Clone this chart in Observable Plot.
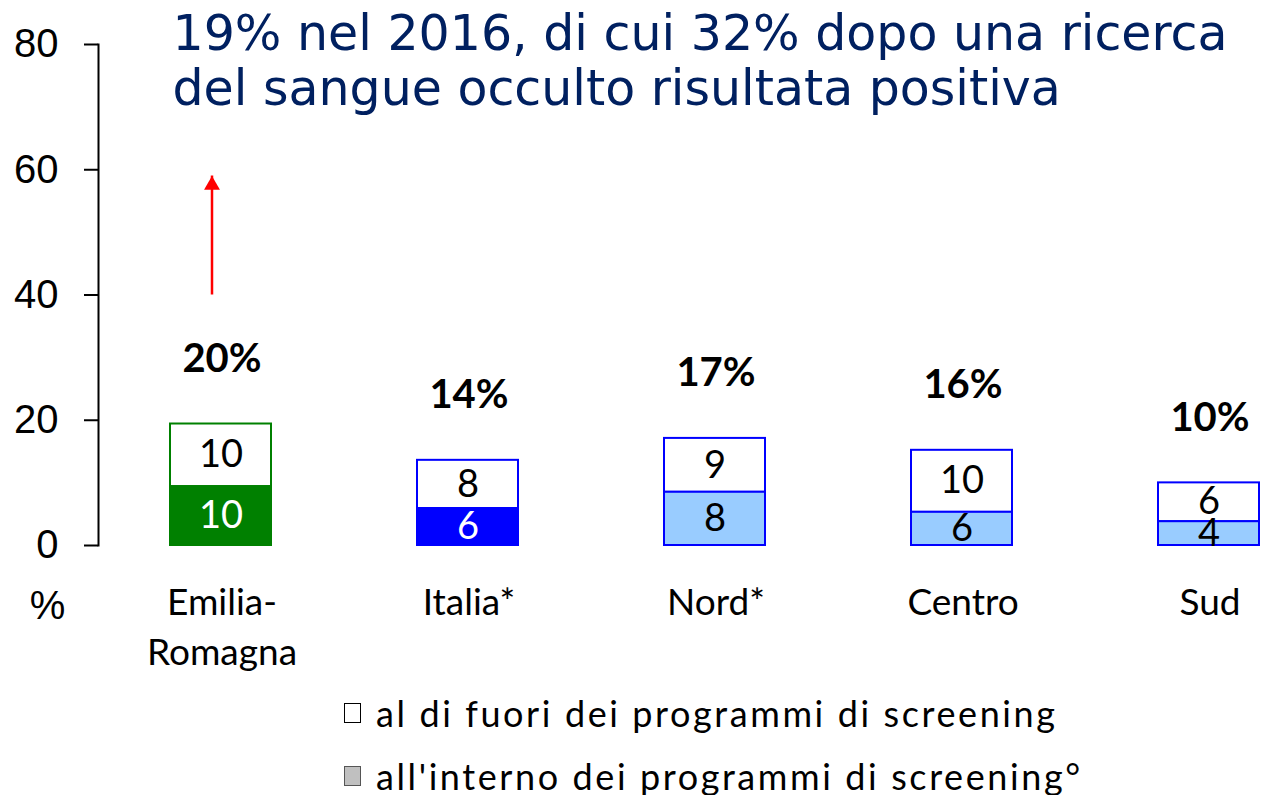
<!DOCTYPE html>
<html>
<head>
<meta charset="utf-8">
<script src="https://cdn.jsdelivr.net/npm/d3@7"></script>
<script src="https://cdn.jsdelivr.net/npm/@observablehq/plot@0.6"></script>
<style>
  html, body { margin: 0; padding: 0; background: #fff; }
  #wrap { position: relative; width: 1267px; height: 795px; overflow: hidden; }
  .lg-row { position: absolute; left: 344px; height: 40px; line-height: 40px; display: flex; align-items: center; font-family: Lato, "DejaVu Sans", sans-serif; font-size: 36px; letter-spacing: 2.6px; color: #000; white-space: nowrap; }
  .lg-sw { width: 15px; height: 18px; border: 1.5px solid #000; margin-right: 15px; box-sizing: content-box; }
  g[aria-label="category-labels"] text { letter-spacing: 1.2px; }
  g[aria-label="total-labels"] text { letter-spacing: 2.5px; }
</style>
</head>
<body>
<div id="wrap"></div>
<script>
// ---- data ----
const categories = ["Emilia-Romagna", "Italia*", "Nord*", "Centro", "Sud"];
const categoryLabels = ["Emilia-\nRomagna", "Italia*", "Nord*", "Centro", "Sud"];
const insideValues = [9.4, 5.9, 8.5, 5.3, 3.8];     // all'interno dei programmi di screening
const outsideValues = [10.0, 7.7, 8.6, 9.9, 6.2];   // al di fuori dei programmi di screening
const insideLabels = ["10", "6", "8", "6", "4"];
const outsideLabels = ["10", "8", "9", "10", "6"];
const totalLabels = ["20%", "14%", "17%", "16%", "10%"];
const yTicks = [0, 20, 40, 60, 80];
const arrowFrom = 40;
const arrowTo = 59;
const titleText = "19% nel 2016, di cui 32% dopo una ricerca\ndel sangue occulto risultata positiva";
const legendLabels = ["al di fuori dei programmi di screening", "all'interno dei programmi di screening°"];
const yUnit = "%";

// ---- styles ----
const strokeColor = {"Emilia-Romagna": "#008000", "Italia*": "#0000ff", "Nord*": "#0000ff", "Centro": "#0000ff", "Sud": "#0000ff"};
const insideFill = {"Emilia-Romagna": "#008000", "Italia*": "#0000ff", "Nord*": "#99ccff", "Centro": "#99ccff", "Sud": "#99ccff"};
const insideTextColor = {"Emilia-Romagna": "#fff", "Italia*": "#fff", "Nord*": "#000", "Centro": "#000", "Sud": "#000"};
const labelFont = "Lato, 'DejaVu Sans', sans-serif";
const arialFont = "'Liberation Sans', Arial, sans-serif";

const rows = categories.map((c, i) => ({
  cat: c,
  label: categoryLabels[i],
  inside: insideValues[i],
  outside: outsideValues[i],
  total: insideValues[i] + outsideValues[i],
  inLab: insideLabels[i],
  outLab: outsideLabels[i],
  totLab: totalLabels[i]
}));

const chart = Plot.plot({
  width: 1267,
  height: 690,
  marginLeft: 98,
  marginRight: 0,
  marginTop: 44,
  marginBottom: 145,
  x: {domain: categories, range: [97, 1332], paddingInner: 0.591, paddingOuter: 0.2955, axis: null},
  y: {domain: [0, 80], axis: null},
  style: {background: "transparent"},
  marks: [
    Plot.axisY(yTicks, {tickSize: 14, tickPadding: 26, fontSize: 40, fontFamily: arialFont, color: "#000", strokeWidth: 2, label: null}),
    Plot.frame({anchor: "left", stroke: "#000", strokeWidth: 2}),
    // outside segment (white)
    Plot.barY(rows, {x: "cat", y1: "inside", y2: "total", fill: "#fff", stroke: d => strokeColor[d.cat], strokeWidth: 2}),
    // inside segment
    Plot.barY(rows, {x: "cat", y1: 0, y2: "inside", fill: d => insideFill[d.cat], stroke: d => strokeColor[d.cat], strokeWidth: 2}),
    Plot.text(rows, {x: "cat", y: d => d.inside + d.outside / 2, text: "outLab", fontSize: 38, fontFamily: labelFont, fill: "#000"}),
    Plot.text(rows, {x: "cat", y: d => d.inside / 2, text: "inLab", fontSize: 38, fontFamily: labelFont, fill: d => insideTextColor[d.cat]}),
    Plot.text(rows, {x: "cat", y: "total", text: "totLab", dy: -65, dx: 1, fontSize: 40, fontWeight: "bold", fontFamily: labelFont, fill: "#000", ariaLabel: "total-labels"}),
    // category labels
    Plot.text(rows, {x: "cat", frameAnchor: "bottom", text: "label", dy: 34, dx: 1, lineAnchor: "top", textAnchor: "middle", lineHeight: 1.35, fontSize: 37, fontFamily: labelFont, fill: "#000", ariaLabel: "category-labels"}),
    // unit label
    Plot.text([yUnit], {frameAnchor: "bottom-left", text: d => d, dx: -51, dy: 61, textAnchor: "middle", lineAnchor: "middle", fontSize: 40, fontFamily: arialFont, fill: "#000"}),
    // red arrow
    Plot.ruleX([{cat: categories[0], a: arrowFrom, b: arrowTo}], {x: "cat", y1: "a", y2: "b", stroke: "#ff0000", strokeWidth: 2.5, dx: -9}),
    Plot.dot([{cat: categories[0], b: arrowTo}], {x: "cat", y: "b", symbol: "triangle", r: 5.9, fill: "#ff0000", stroke: "none", dx: -9, dy: 9.2}),
    // title
    Plot.text([titleText], {frameAnchor: "top-left", text: d => d, dx: 74, dy: -33, lineAnchor: "top", textAnchor: "start", lineHeight: 1.12, fontSize: 49, fontFamily: "'DejaVu Sans', Verdana, sans-serif", fill: "#002060"})
  ]
});

const wrap = document.getElementById("wrap");
wrap.appendChild(chart);

const legendTops = [693, 756];
const swatchFill = ["#ffffff", "#c0c0c0"];
const swatchStroke = ["#000000", "#555555"];
legendLabels.forEach((t, i) => {
  const row = document.createElement("div");
  row.className = "lg-row";
  row.style.top = legendTops[i] + "px";
  const sw = document.createElement("div");
  sw.className = "lg-sw";
  sw.style.background = swatchFill[i];
  sw.style.borderColor = swatchStroke[i];
  const tx = document.createElement("span");
  tx.textContent = t;
  row.appendChild(sw);
  row.appendChild(tx);
  wrap.appendChild(row);
});
</script>
</body>
</html>
